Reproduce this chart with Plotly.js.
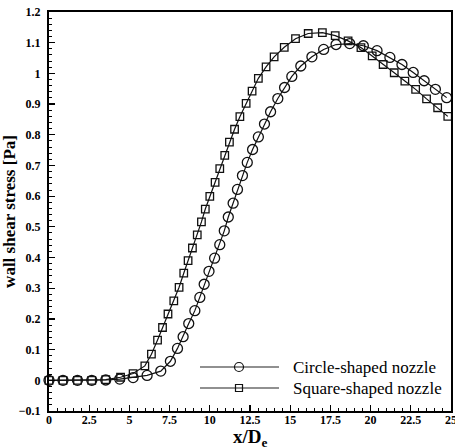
<!DOCTYPE html>
<html>
<head>
<meta charset="utf-8">
<script src="https://cdn.plot.ly/plotly-3.0.1.min.js"></script>
<style>html,body{margin:0;padding:0;background:#fff;}#chart{width:455px;height:448px;}</style>
</head>
<body>
<div id="chart"></div>
<script>
// Circle-shaped nozzle
const circleX = [0,0.87,1.77,2.66,3.53,4.4,5.23,6.1,6.95,7.55,7.99,8.34,8.69,9.07,9.38,9.65,9.95,10.3,10.62,10.9,11.15,11.45,11.72,12.03,12.33,12.66,13.02,13.4,13.78,14.23,14.65,15.1,15.66,16.35,17.08,17.85,18.7,19.55,20.4,21.2,21.95,22.65,23.33,24.03,24.73];
const circleY = [0,0,0,0,0.001,0.004,0.009,0.016,0.03,0.062,0.104,0.142,0.185,0.227,0.27,0.313,0.355,0.398,0.442,0.487,0.532,0.577,0.622,0.667,0.71,0.752,0.793,0.835,0.875,0.918,0.954,0.99,1.024,1.054,1.078,1.094,1.097,1.09,1.074,1.052,1.029,1.003,0.976,0.948,0.921];
// Square-shaped nozzle
const squareX = [0,0.87,1.77,2.66,3.53,4.45,5.23,5.96,6.37,6.75,7.06,7.4,7.76,8.09,8.38,8.65,8.92,9.22,9.48,9.72,10.0,10.33,10.62,10.93,11.22,11.54,11.87,12.26,12.63,13.02,13.5,14.0,14.63,15.33,16.12,17.0,17.8,18.6,19.4,20.1,20.78,21.47,22.13,22.8,23.48,24.17,24.8];
const squareY = [0,0,0,0,0.002,0.01,0.022,0.047,0.085,0.131,0.172,0.216,0.259,0.303,0.349,0.39,0.431,0.474,0.516,0.558,0.599,0.645,0.69,0.733,0.776,0.818,0.859,0.902,0.942,0.984,1.021,1.054,1.085,1.113,1.13,1.133,1.123,1.106,1.084,1.057,1.029,1.002,0.975,0.948,0.917,0.888,0.86];
const seriesNames = ["Circle-shaped nozzle", "Square-shaped nozzle"];

const serif = "Liberation Serif";
const W = 455, H = 448;
const M = {l:49, r:4, t:12, b:37};
const pw = W - M.l - M.r, ph = H - M.t - M.b;
const px = v => (v - M.l) / pw;
const py = v => (H - M.b - v) / ph;

const traces = [
  {x: circleX, y: circleY, type: 'scatter', mode: 'lines+markers', name: seriesNames[0],
   line: {color: '#111', width: 1.2},
   marker: {symbol: 'circle-open', size: 10, color: '#111', line: {width: 1.3, color: '#111'}},
   showlegend: false, cliponaxis: false},
  {x: squareX, y: squareY, type: 'scatter', mode: 'lines+markers', name: seriesNames[1],
   line: {color: '#111', width: 1.2},
   marker: {symbol: 'square-open', size: 7.5, color: '#111', line: {width: 1.3, color: '#111'}},
   showlegend: false, cliponaxis: false}
];

// legend drawn manually
const rows = [367, 388];
const lx0 = px(200), lx1 = px(279), ltx = px(291);
const shapes = [];
const annotations = [];
rows.forEach((r, i) => {
  shapes.push({type: 'line', xref: 'paper', yref: 'paper', x0: lx0, x1: lx1, y0: py(r), y1: py(r),
               line: {color: '#222', width: 1.2}});
  if (i === 0) {
    shapes.push({type: 'circle', xref: 'paper', yref: 'paper',
                 x0: px(239 - 4.5), x1: px(239 + 4.5), y0: py(r + 4.5), y1: py(r - 4.5),
                 line: {color: '#111', width: 1.2}, fillcolor: 'rgba(0,0,0,0)'});
  } else {
    shapes.push({type: 'rect', xref: 'paper', yref: 'paper',
                 x0: px(239 - 3.5), x1: px(239 + 3.5), y0: py(r + 3.5), y1: py(r - 3.5),
                 line: {color: '#111', width: 1.2}, fillcolor: 'rgba(0,0,0,0)'});
  }
  annotations.push({xref: 'paper', yref: 'paper', x: ltx, y: py(r), xanchor: 'left', yanchor: 'middle',
                    text: seriesNames[i], showarrow: false,
                    font: {family: serif, size: 17, color: '#000'}});
});
// x-axis title
annotations.push({xref: 'paper', yref: 'paper', x: px(250), y: py(425), xanchor: 'center', yanchor: 'top',
                  text: 'x/D<sub>e</sub>', showarrow: false, borderpad: 0,
                  font: {family: serif, size: 19, color: '#000', weight: 'bold'}});

const layout = {
  width: W, height: H,
  margin: M,
  font: {family: serif, color: '#000'},
  paper_bgcolor: '#fff', plot_bgcolor: '#fff',
  showlegend: false,
  xaxis: {
    range: [0, 25], dtick: 2.5, tick0: 0,
    showgrid: false, zeroline: false,
    showline: true, mirror: true, linecolor: '#000', linewidth: 2,
    ticks: 'inside', ticklen: 6, tickwidth: 1.2, tickcolor: '#000',
    minor: {dtick: 0.5, ticks: 'inside', ticklen: 3, tickwidth: 1, tickcolor: '#000', showgrid: false},
    tickfont: {family: serif, size: 12, color: '#000', weight: 'bold'},
    ticklabelstandoff: -3,
    ticklabeloverflow: 'allow'
  },
  yaxis: {
    range: [-0.1, 1.2], dtick: 0.1, tick0: 0,
    showgrid: false, zeroline: false,
    showline: true, mirror: true, linecolor: '#000', linewidth: 2,
    ticks: 'inside', ticklen: 6, tickwidth: 1.2, tickcolor: '#000',
    minor: {dtick: 0.02, ticks: 'inside', ticklen: 3, tickwidth: 1, tickcolor: '#000', showgrid: false},
    tickfont: {family: serif, size: 12, color: '#000', weight: 'bold'},
    ticklabelstandoff: 4,
    ticklabeloverflow: 'allow',
    title: {text: 'wall shear stress [Pa]', font: {family: serif, size: 17, color: '#000', weight: 'bold'}, standoff: 2}
  },
  shapes: shapes,
  annotations: annotations
};

Plotly.newPlot('chart', traces, layout, {displayModeBar: false, staticPlot: true});
</script>
</body>
</html>
